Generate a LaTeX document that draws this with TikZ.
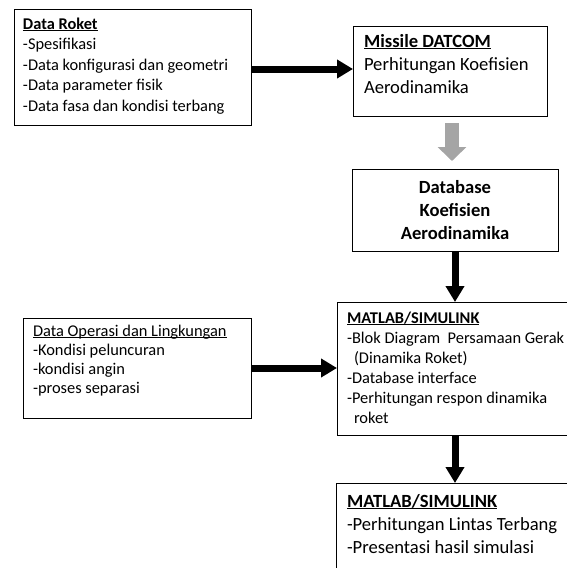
\documentclass[tikz,border=0pt]{standalone}
\usepackage{fontspec}
\setmainfont{Carlito}
\usetikzlibrary{arrows.meta,calc}
\definecolor{arrowgray}{RGB}{165,165,165}
\newcommand\ulword[1]{\setbox0\hbox{#1}\rlap{\rule[-2.3pt]{\wd0}{0.9pt}}\box0}
\newcommand\firstS{\rule{0pt}{16pt}}
\newcommand\firstL{\rule{0pt}{18pt}}
\tikzset{
  boxnode/.style={draw=black,line width=0.9pt,fill=white,inner sep=0pt,outer sep=0pt,anchor=north west},
  txt/.style={inner sep=0pt,outer sep=0pt,anchor=north west,align=left,text=black},
  txtS/.style={txt,font=\fontsize{16.4}{20.5}\selectfont},
  txtL/.style={txt,font=\fontsize{18.6}{23.2}\selectfont},
  flowarrow/.style={line width=7pt,black,-{Triangle[length=16pt,width=18pt]}},
  grayarrow/.style={line width=14pt,arrowgray,-{Triangle[length=14pt,width=28pt]}}
}
\begin{document}
\begin{tikzpicture}[x=1pt,y=-1pt]
\useasboundingbox (0,0) rectangle (567,568);
\clip (0,0) rectangle (567,568);
% boxes
\node[boxnode,minimum width=237pt,minimum height=116pt] (roket) at (14,9) {};
\node[boxnode,minimum width=194pt,minimum height=90pt] (datcom) at (353,26) {};
\node[boxnode,minimum width=206pt,minimum height=82pt] (db) at (352,169) {};
\node[boxnode,minimum width=250pt,minimum height=133pt] (m1) at (337,302) {};
\node[boxnode,minimum width=228pt,minimum height=100pt] (ops) at (23,318) {};
\node[boxnode,minimum width=250pt,minimum height=110pt] (m2) at (336,483) {};
% texts
\node[txtS] (roketT) at (23,13) {\firstS\ulword{\textbf{Data Roket}}\\-Spesifikasi\\-Data konfigurasi dan geometri\\-Data parameter fisik\\-Data fasa dan kondisi terbang};
\node[txtL] (datcomT) at (364,29) {\firstL\ulword{\textbf{Missile DATCOM}}\\Perhitungan Koefisien\\Aerodinamika};
\node[txtL,anchor=north,align=center] (dbT) at (455,175) {\firstL\textbf{Database}\\\textbf{Koefisien}\\\textbf{Aerodinamika}};
\node[txtS,font=\fontsize{16.4}{20}\selectfont] (m1T) at (347,307) {\firstS\ulword{\textbf{MATLAB/SIMULINK}}\\-Blok Diagram\ \ Persamaan Gerak\\\hspace*{7pt}(Dinamika Roket)\\-Database interface\\-Perhitungan respon dinamika\\\hspace*{7pt}roket};
\node[txtS,font=\fontsize{16.4}{19}\selectfont] (opsT) at (33,320) {\firstS\ulword{Data Operasi dan Lingkungan}\\-Kondisi peluncuran\\-kondisi angin\\-proses separasi};
\node[txtL] (m2T) at (347,489) {\firstL\ulword{\textbf{MATLAB/SIMULINK}}\\-Perhitungan Lintas Terbang\\-Presentasi hasil simulasi};
% connectors
\coordinate (r1) at ($(roket.east)+(0,2)$);
\draw[flowarrow] (r1) -- (r1 -| datcom.west);
\draw[grayarrow,shorten <=7pt,shorten >=8pt] ([xshift=2pt]datcom.south) -- ([xshift=2pt]datcom.south |- db.north);
\draw[flowarrow] (db.south) -- (db.south |- m1.north);
\draw[flowarrow] (ops.east) -- (ops.east -| m1.west);
\draw[flowarrow] (db.south |- m1.south) -- (db.south |- m2.north);
\end{tikzpicture}
\end{document}
